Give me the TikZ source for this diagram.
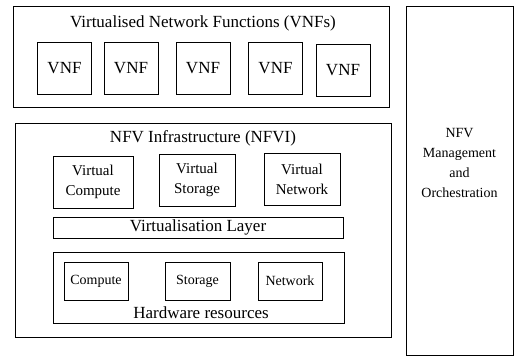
\documentclass[tikz,border=0pt]{standalone}
\usepackage{fontspec}
\setmainfont{Liberation Serif}
\usepackage{tikz}
\usetikzlibrary{positioning}

\tikzset{
  frame/.style={draw, line width=0.9pt, inner sep=0pt},
  vnfbox/.style={frame, minimum width=54pt, minimum height=52pt, font=\fontsize{17}{19}\selectfont},
  virtbox/.style={frame, minimum height=52pt, align=center, font=\fontsize{15}{20}\selectfont},
  hwbox/.style={frame, minimum width=64pt, minimum height=38pt, font=\fontsize{14}{16}\selectfont},
  heading/.style={font=\fontsize{17}{19}\selectfont, inner sep=0pt}
}

\begin{document}
\begin{tikzpicture}[x=1pt, y=-1pt]
  \useasboundingbox (0,0) rectangle (530,357);

  % VNF layer
  \node[frame, minimum width=376pt, minimum height=101pt] (vnfs) at (201,56.5) {};
  \node[heading] (vnftitle) at (203,23) {Virtualised Network Functions (VNFs)};
  \foreach \x/\y [count=\i] in {64.5/68, 131/68, 203/68, 275.5/68, 343/70.5} {
    \node[vnfbox] (vnf\i) at (\x,\y) {VNF};
  }

  % NFVI
  \node[frame, minimum width=376pt, minimum height=214pt] (nfvi) at (203,230) {};
  \node[heading] (nfvititle) at (203,138) {NFV Infrastructure (NFVI)};
  \node[virtbox, minimum width=80pt] (vcompute) at (93,182) {Virtual\\Compute};
  \node[virtbox, minimum width=76pt] (vstorage) at (197,180) {Virtual\\Storage};
  \node[virtbox, minimum width=76pt] (vnetwork) at (302,179.5) {Virtual\\Network};
  \node[frame, minimum width=290pt, minimum height=21pt, font=\fontsize{17}{19}\selectfont] (virtlayer) at (198,227.5) {Virtualisation Layer};

  % Hardware
  \node[frame, minimum width=291pt, minimum height=71pt] (hardware) at (198.5,287.5) {};
  \node[hwbox] (compute) at (96,281) {Compute};
  \node[hwbox, minimum width=65pt] (storage) at (197.5,281) {Storage};
  \node[hwbox] (network) at (290,281) {Network};
  \node[heading] (hwtitle) at (201,313) {Hardware resources};

  % MANO
  \node[frame, minimum width=107pt, minimum height=349pt] (mano) at (459.5,180.5) {};
  \node[align=center, inner sep=0pt, font=\fontsize{14}{20}\selectfont] (manotext) at (459.5,163) {NFV\\Management\\and\\Orchestration};
\end{tikzpicture}
\end{document}
